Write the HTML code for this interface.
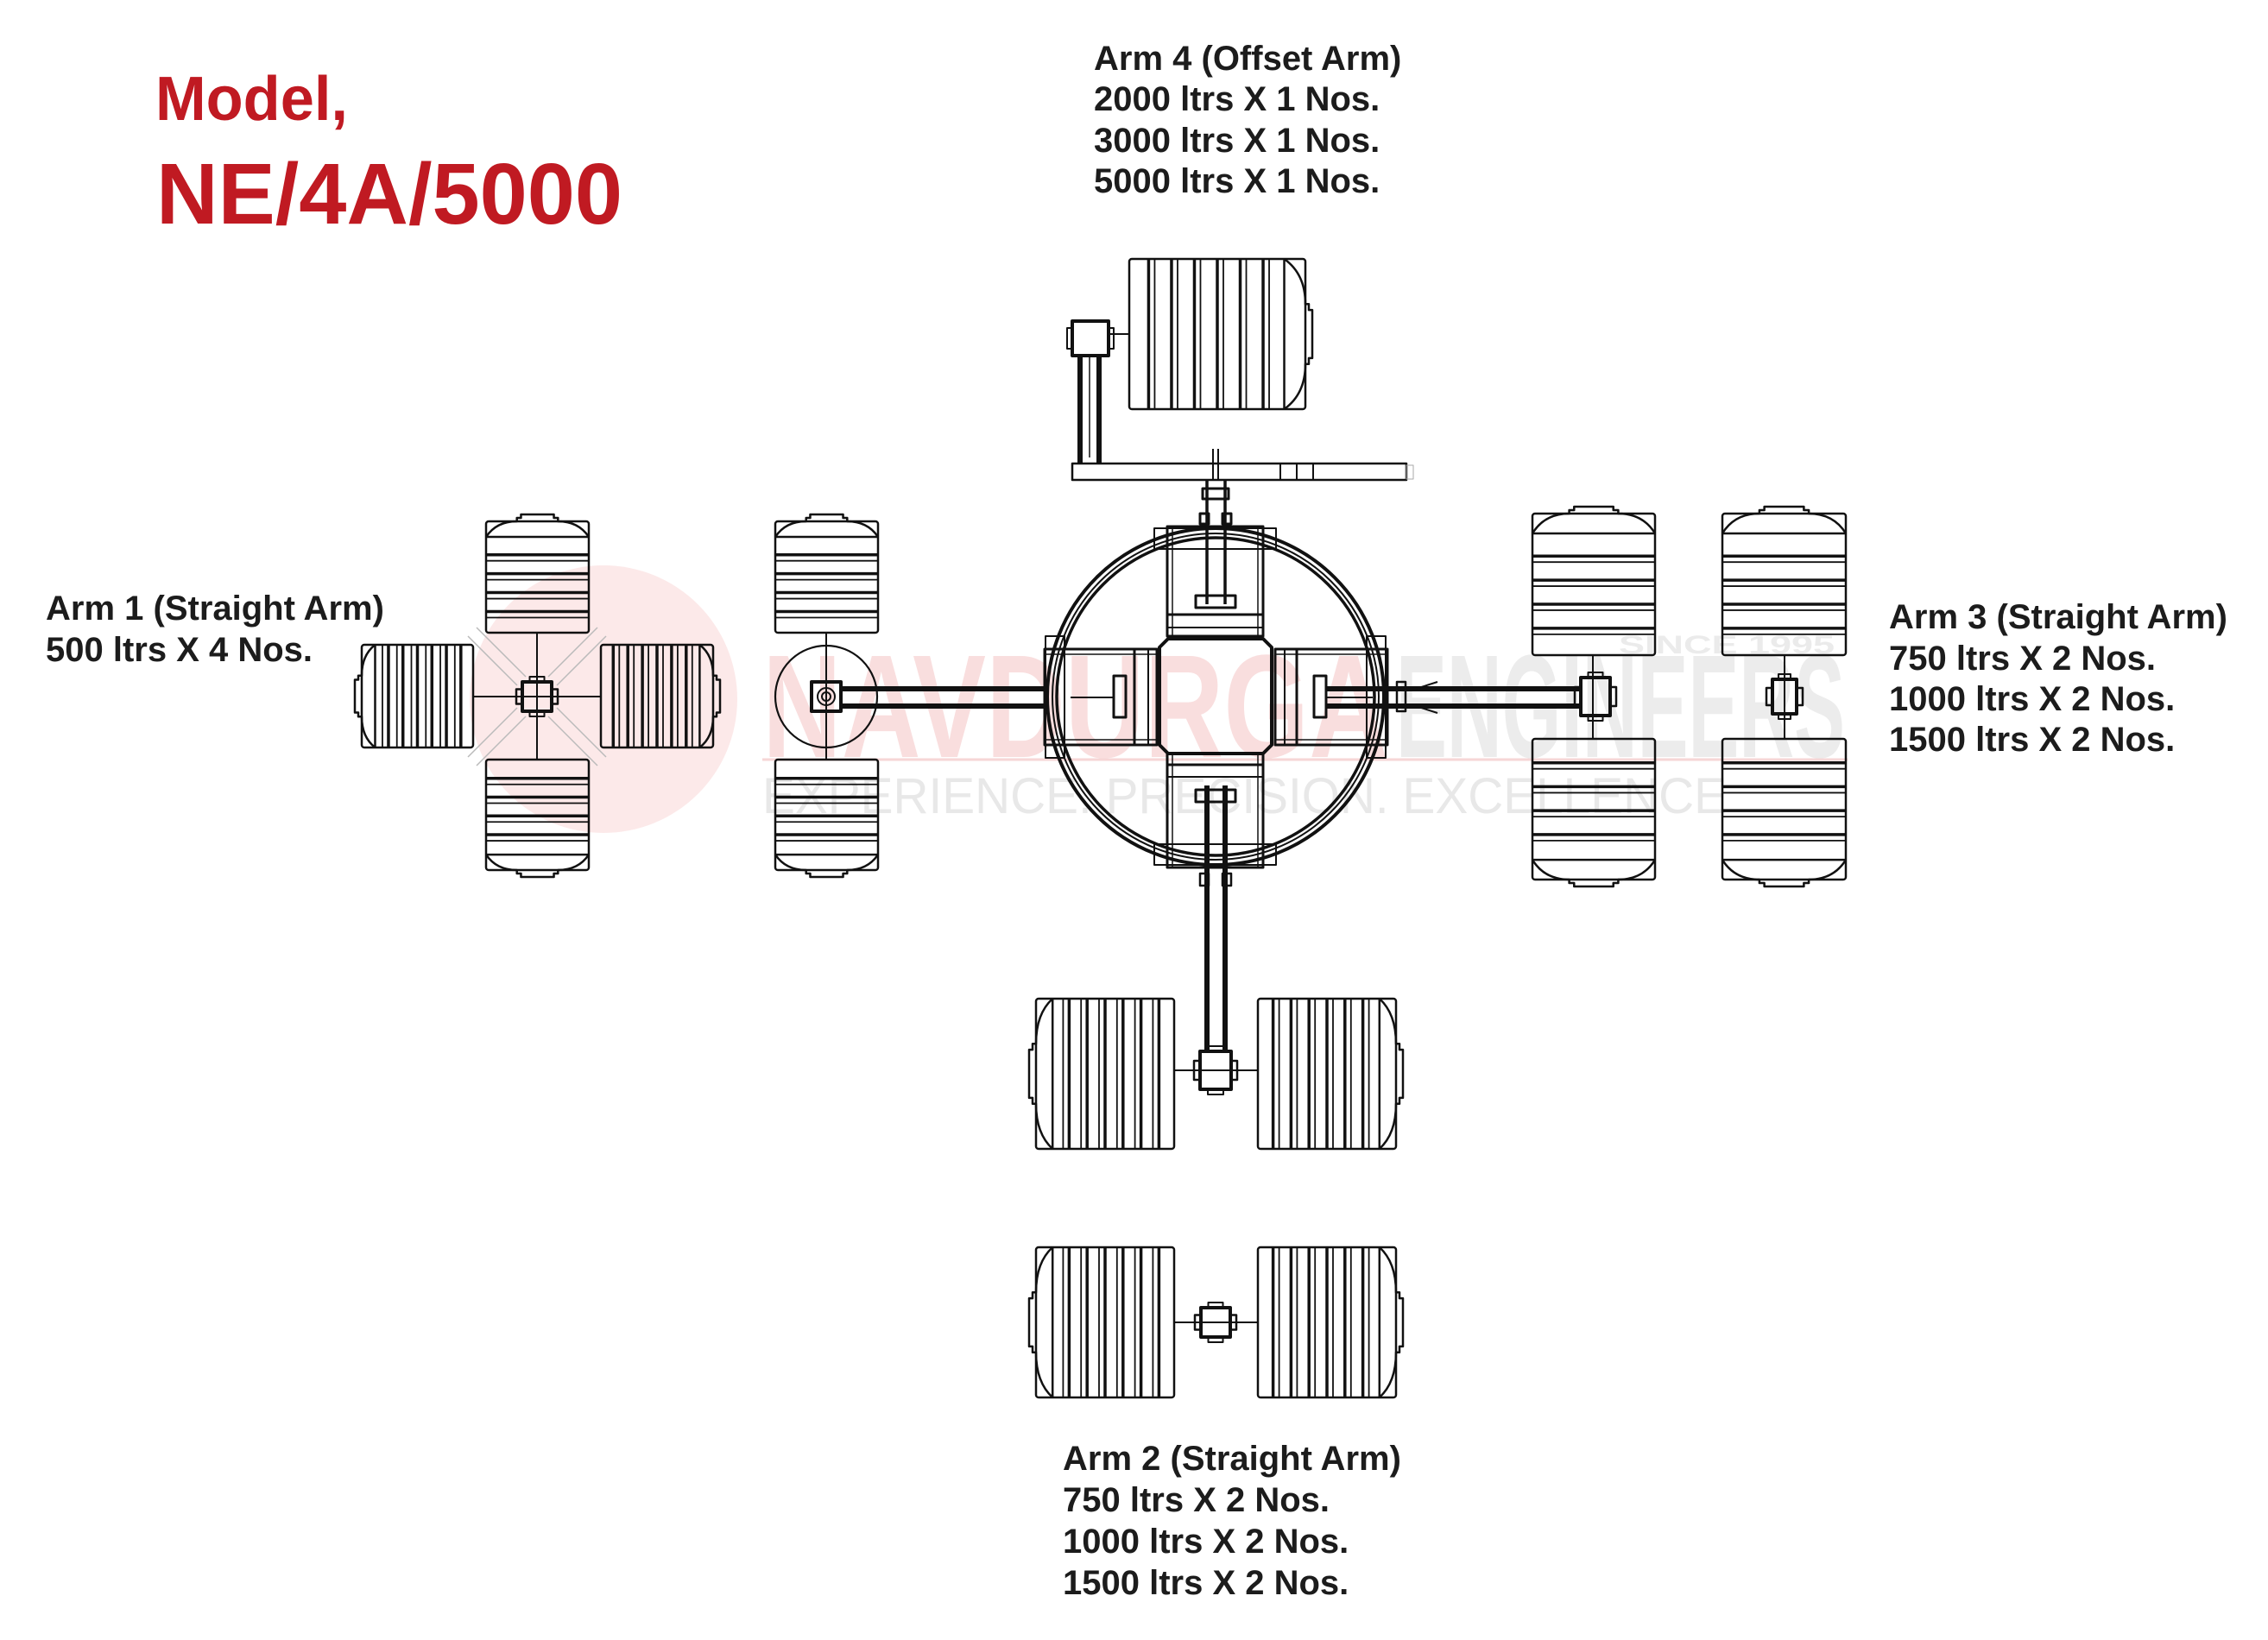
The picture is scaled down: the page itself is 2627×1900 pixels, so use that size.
<!DOCTYPE html>
<html><head><meta charset="utf-8">
<style>
html,body{margin:0;padding:0;background:#fff;}
body{width:2627px;height:1900px;overflow:hidden;position:relative;}
svg{position:absolute;left:0;top:0;}
</style></head>
<body>
<svg id="s" width="2627" height="1900" viewBox="0 0 2627 1900" xmlns="http://www.w3.org/2000/svg">
<g id="wm">
<circle cx="699" cy="810" r="155" fill="#fce9e9"/>
<text x="883" y="877" font-family="Liberation Sans, sans-serif" font-weight="bold" font-size="170" fill="#f9dede" textLength="725" lengthAdjust="spacingAndGlyphs">NAVDURGA</text>
<text x="1617" y="877" font-family="Liberation Sans, sans-serif" font-weight="bold" font-size="170" fill="#ececec" textLength="520" lengthAdjust="spacingAndGlyphs">ENGINEERS</text>
<line x1="883" y1="880" x2="2140" y2="880" stroke="#f6d6d6" stroke-width="3"/>
<text x="1875" y="757" font-family="Liberation Sans, sans-serif" font-weight="bold" font-size="30" fill="#ebebeb" textLength="250" lengthAdjust="spacingAndGlyphs">SINCE 1995</text>
<text x="883" y="942" font-family="Liberation Sans, sans-serif" font-size="58" fill="#e8e8e8" textLength="1117" lengthAdjust="spacingAndGlyphs">EXPERIENCE.  PRECISION.  EXCELLENCE</text>
</g>
<g id="d" fill="none" stroke="#111" stroke-width="2.5" stroke-linejoin="round"></g>
<g font-family="Liberation Sans, sans-serif" font-weight="bold">
<text x="180" y="139" font-size="72" fill="#c01a22" textLength="223" lengthAdjust="spacingAndGlyphs">Model,</text>
<text x="181" y="259" font-size="100" fill="#c01a22" textLength="540" lengthAdjust="spacingAndGlyphs">NE/4A/5000</text>
<g font-size="40" fill="#1c1c1c">
<text x="1267" y="81">Arm 4 (Offset Arm)</text>
<text x="1267" y="128">2000 ltrs X 1 Nos.</text>
<text x="1267" y="176">3000 ltrs X 1 Nos.</text>
<text x="1267" y="223">5000 ltrs X 1 Nos.</text>
<text x="53" y="718">Arm 1 (Straight Arm)</text>
<text x="53" y="766">500 ltrs X 4 Nos.</text>
<text x="2188" y="728">Arm 3 (Straight Arm)</text>
<text x="2188" y="776">750 ltrs X 2 Nos.</text>
<text x="2188" y="823">1000 ltrs X 2 Nos.</text>
<text x="2188" y="870">1500 ltrs X 2 Nos.</text>
<text x="1231" y="1703">Arm 2 (Straight Arm)</text>
<text x="1231" y="1751">750 ltrs X 2 Nos.</text>
<text x="1231" y="1799">1000 ltrs X 2 Nos.</text>
<text x="1231" y="1847">1500 ltrs X 2 Nos.</text>
</g></g>
</svg>
<script>
var g=document.getElementById('d'),NS='http://www.w3.org/2000/svg';
function el(t,a){var e=document.createElementNS(NS,t);for(var k in a)e.setAttribute(k,a[k]);g.appendChild(e);return e;}
function L(x1,y1,x2,y2,w,c){return el('line',{x1:x1,y1:y1,x2:x2,y2:y2,'stroke-width':w||2.5,stroke:c||'#111'});}
function R(x,y,w,h,sw,rx){return el('rect',{x:x,y:y,width:w,height:h,'stroke-width':sw||2.5,rx:rx||0});}
function P(d,sw){return el('path',{d:d,'stroke-width':sw||2.5});}
function tank(x,y,w,h,cap){
  R(x,y,w,h,2.5,3);
  var i,f;
  if(cap=='R'||cap=='L'){
    var dx=w*0.12, s=(cap=='R')?1:-1, ex=(cap=='R')?x+w:x, bx=ex-s*dx;
    P('M'+bx+','+y+' Q'+(ex)+','+(y+h*0.1)+' '+(ex)+','+(y+h*0.3)+' H'+(ex+s*4)+' V'+(y+h*0.34)+' H'+(ex+s*8)+' V'+(y+h*0.66)+' H'+(ex+s*4)+' V'+(y+h*0.7)+' H'+ex+' Q'+ex+','+(y+h*0.9)+' '+bx+','+(y+h));
    L(bx,y,bx,y+h);
    for(i=0;i<6;i++){f=0.11+i*0.13; var px=(cap=='R')?x+w*f:x+w*(1-f); L(px,y,px,y+h,3.5); L(px+s*7,y,px+s*7,y+h,1.8);}
  } else {
    var dy=h*0.14, s2=(cap=='B')?1:-1, ey=(cap=='B')?y+h:y, by=ey-s2*dy;
    P('M'+x+','+by+' Q'+(x+w*0.1)+','+ey+' '+(x+w*0.3)+','+ey+' V'+(ey+s2*4)+' H'+(x+w*0.34)+' V'+(ey+s2*8)+' H'+(x+w*0.66)+' V'+(ey+s2*4)+' H'+(x+w*0.7)+' V'+ey+' Q'+(x+w*0.9)+','+ey+' '+(x+w)+','+by);
    L(x,by,x+w,by);
    for(i=0;i<4;i++){f=0.3+i*0.17; var py=(cap=='B')?y+h*(1-f)-h*0.02:y+h*f; L(x,py,x+w,py,3.5); L(x,py+7,x+w,py+7,1.8);}
  }
}
function hub(cx,cy,w,h){R(cx-w/2,cy-h/2,w,h,4);R(cx-w/2-7,cy-h/4,7,h/2,2.5);R(cx+w/2,cy-h/4,7,h/2,2.5);R(cx-w/4,cy-h/2-6,w/2,6,2);R(cx-w/4,cy+h/2,w/2,6,2);}
L(622,733,622,880,2);L(548,807,696,807,2);
[[1,1],[1,-1],[-1,1],[-1,-1]].forEach(function(d){
  for(var k=-1;k<=1;k+=2){L(622+d[0]*18+k*5,807+d[1]*18-k*5*d[0]*d[1],622+d[0]*75+k*5,807+d[1]*75-k*5*d[0]*d[1],1.5,'#bbb');}
});
tank(563,604,119,129,'T');tank(563,880,119,128,'B');tank(419,747,129,119,'L');tank(696,747,130,119,'R');
hub(622,807,34,34);
tank(898,604,119,129,'T');tank(898,880,119,128,'B');
L(957,733,957,880,2);
el('circle',{cx:957,cy:807,r:59,'stroke-width':2.2});
R(940,790,34,34,4);el('circle',{cx:957,cy:807,r:10,'stroke-width':2});el('circle',{cx:957,cy:807,r:5,'stroke-width':2});
L(974,798,1215,798,6);L(974,818,1215,818,6);
el('circle',{cx:1408,cy:807,r:195,'stroke-width':4});
el('circle',{cx:1408,cy:807,r:189,'stroke-width':2});
el('circle',{cx:1408,cy:807,r:184,'stroke-width':3.5});
R(1352,610,111,127,3);R(1358,610,99,127,1.5);L(1352,712,1463,712,3);L(1352,727,1463,727,2);
R(1337,612,141,24,2);
R(1352,873,111,132,3);R(1358,873,99,132,1.5);L(1352,886,1463,886,3);L(1352,900,1463,900,2);
R(1337,978,141,24,2);
R(1210,752,130,111,3);R(1210,758,130,99,1.5);L(1314,752,1314,863,3);L(1330,752,1330,863,2);
R(1211,737,22,141,2);
R(1477,752,130,111,3);R(1477,758,130,99,1.5);L(1502,752,1502,863,3);L(1488,752,1488,863,2);
R(1583,737,22,141,2);
P('M1353,740 H1463 L1473,750 V863 L1463,873 H1353 L1343,863 V750 Z',4);
L(1398,556,1398,700,3.5);L(1419,556,1419,700,3.5);R(1385,690,46,14,3);R(1390,595,10,12,3);R(1416,595,10,12,3);R(1393,566,30,12,3);
R(1290,783,14,48,3);L(1240,808,1290,808,2);
R(1522,783,14,48,3);L(1536,808,1590,808,2);
L(1536,798,1830,798,6);L(1536,818,1830,818,6);
R(1618,790,10,34,2.5);L(1640,798,1665,790,2);L(1640,818,1665,826,2);
L(1398,910,1398,1218,6);L(1419,910,1419,1218,6);R(1385,915,46,14,3);R(1390,1012,10,14,2.5);R(1416,1012,10,14,2.5);
tank(1308,300,204,174,'R');
L(1284,387,1308,387,2);
R(1242,372,42,40,4);R(1236,380,6,24,2);R(1284,380,6,24,2);
L(1251,412,1251,537,6);L(1273,412,1273,537,6);L(1262,412,1262,530,1.5);
R(1242,537,387,19,2.5);L(1483,537,1483,556,2);L(1502,537,1502,556,2);L(1521,537,1521,556,2);
R(1629,539,8,16,1,0).setAttribute('stroke','#aaa');
L(1405,520,1405,556,2);L(1411,520,1411,556,2);
tank(1775,595,142,164,'T');tank(1775,856,142,163,'B');
tank(1995,595,143,164,'T');tank(1995,856,143,163,'B');
L(1845,759,1845,856,2);L(2067,759,2067,856,2);
hub(1848,807,34,44);hub(2067,807,28,40);
tank(1200,1157,160,174,'L');tank(1457,1157,160,174,'R');
tank(1200,1445,160,174,'L');tank(1457,1445,160,174,'R');
L(1360,1240,1457,1240,2);L(1360,1532,1457,1532,2);
hub(1408,1240,36,44);hub(1408,1532,34,34);
</script>
</body></html>
